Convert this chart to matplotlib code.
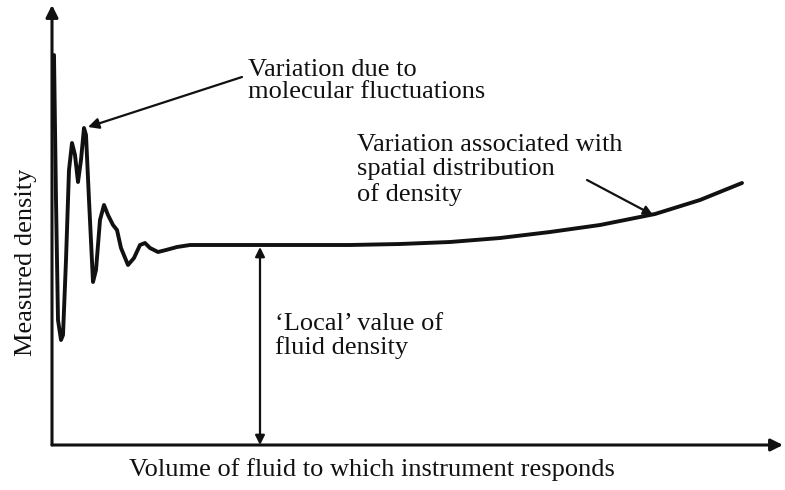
import matplotlib
matplotlib.use("Agg")
import matplotlib.pyplot as plt
import numpy as np

# Curve: volume (x) vs measured density (y), arbitrary units
volume = [2, 4, 6, 9, 11, 14, 17, 20, 23, 26, 29, 32, 34, 37, 41, 44, 48, 52, 56, 61,
          65, 69, 76, 82, 88, 93, 98, 106, 114, 125, 138, 208, 298, 348, 398, 448,
          498, 548, 603, 648, 690]
density = [390, 245, 125, 105, 110, 185, 275, 302, 290, 263, 285, 317, 310, 245, 163,
           175, 225, 240, 230, 220, 215, 197, 180, 187, 200, 202, 197, 193, 195, 198,
           200, 200, 200, 201, 203, 207, 213, 220, 231, 245, 262]

xlabel = "Volume of fluid to which instrument responds"
ylabel = "Measured density"
note_molecular = "Variation due to\nmolecular fluctuations"
note_spatial = "Variation associated with\nspatial distribution\nof density"
note_local = "\u2018Local\u2019 value of\nfluid density"
local_x = 208
local_value = 200

plt.rcParams['font.family'] = ['Liberation Serif', 'DejaVu Serif']

fig = plt.figure(figsize=(7.85, 4.9), dpi=100)
ax = fig.add_axes([0, 0, 1, 1])
ax.set_xlim(-52, 733)
ax.set_ylim(-45, 445)
ax.axis('off')

ink = '#111111'
fs = 19

# axes with arrowheads
ax.annotate('', xy=(0, 440), xytext=(0, 0),
            arrowprops=dict(arrowstyle='-|>', color=ink, lw=2.2, mutation_scale=18,
                            shrinkA=0, shrinkB=0))
ax.annotate('', xy=(731, 0), xytext=(0, 0),
            arrowprops=dict(arrowstyle='-|>', color=ink, lw=2.2, mutation_scale=18,
                            shrinkA=0, shrinkB=0))

ax.plot(volume, density, color=ink, lw=2.8, solid_joinstyle='round', solid_capstyle='round')

# local value double arrow
ax.annotate('', xy=(local_x, local_value - 2), xytext=(local_x, 0),
            arrowprops=dict(arrowstyle='<|-|>', color=ink, lw=1.6, mutation_scale=14,
                            shrinkA=0, shrinkB=0))
ax.text(local_x + 15, 109, note_local, fontsize=fs, color=ink, ha='left', va='center',
        linespacing=1.1)

# molecular fluctuations annotation
ax.annotate('', xy=(36, 318), xytext=(190, 368),
            arrowprops=dict(arrowstyle='-|>', color=ink, lw=1.6, mutation_scale=16,
                            shrinkA=0, shrinkB=0))
ax.text(196, 364, note_molecular, fontsize=fs, color=ink, ha='left', va='center',
        linespacing=1.05)

# spatial distribution annotation
ax.annotate('', xy=(601, 230), xytext=(535, 265),
            arrowprops=dict(arrowstyle='-|>', color=ink, lw=1.6, mutation_scale=14,
                            shrinkA=0, shrinkB=0))
ax.text(305, 275, note_spatial, fontsize=fs, color=ink, ha='left', va='center',
        linespacing=1.12)

ax.text(320, -25, xlabel, fontsize=fs, color=ink, ha='center', va='center')
ax.text(-26, 183, ylabel, fontsize=fs, color=ink, ha='center', va='center', rotation=90)

fig.savefig('out.png', dpi=100, facecolor='white')
